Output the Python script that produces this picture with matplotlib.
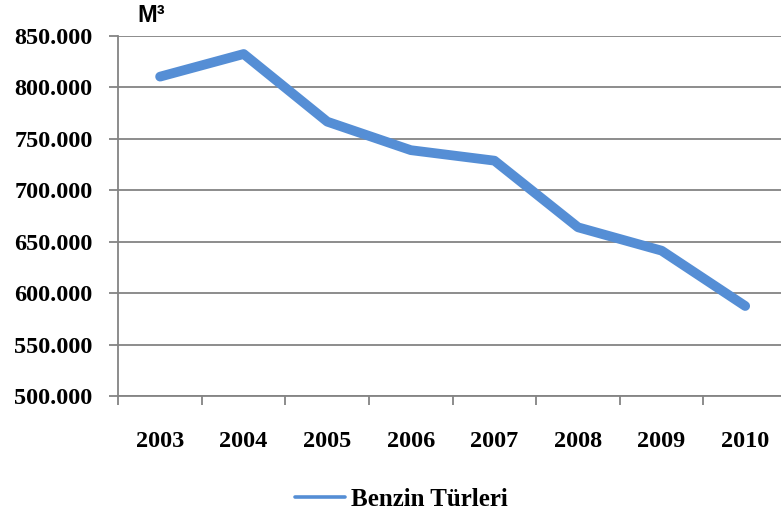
import matplotlib.pyplot as plt
from matplotlib.ticker import FuncFormatter, FixedLocator

# data (m3)
years = ['2003', '2004', '2005', '2006', '2007', '2008', '2009', '2010']
benzin = [810500, 832500, 766700, 739000, 728800, 664000, 641300, 587500]

grey = '#848484'
blue = '#558ed5'

fig = plt.figure(figsize=(7.81, 5.19), dpi=100)
ax = fig.add_axes([118.3 / 781, 123 / 519, (787 - 118.3) / 781, (396 - 36) / 519])

x = list(range(len(years)))
ax.plot(x, benzin, color=blue, linewidth=7, solid_capstyle='round',
        solid_joinstyle='round', label='Benzin Türleri', clip_on=False)

ax.set_xlim(-0.5, len(years) - 0.5)
ax.set_ylim(500000, 850000)
ax.set_yticks(range(500000, 850001, 50000))
ax.yaxis.set_major_formatter(FuncFormatter(lambda v, p: f'{int(v):,}'.replace(',', '.')))

# ticks between categories, labels in the middle
ax.xaxis.set_major_locator(FixedLocator([i - 0.5 for i in range(len(years) + 1)]))
ax.xaxis.set_minor_locator(FixedLocator(x))
ax.set_xticklabels([], minor=False)
ax.set_xticklabels(years, minor=True)

serif = {'family': 'Liberation Serif', 'weight': 'bold', 'size': 17.5}
for lab in ax.get_xticklabels(minor=True) + ax.get_yticklabels():
    lab.set_fontproperties(serif)

ax.tick_params(axis='x', which='major', length=6.5, width=1.3, color=grey, direction='out')
ax.tick_params(axis='x', which='minor', length=0, pad=25)
ax.tick_params(axis='y', length=6.5, width=1.3, color=grey, pad=12)

ax.grid(axis='y', color=grey, linewidth=1.3)
ax.set_axisbelow(True)
for s in ['top', 'right']:
    ax.spines[s].set_visible(False)
for s in ['left', 'bottom']:
    ax.spines[s].set_color(grey)
    ax.spines[s].set_linewidth(1.3)

fig.text(137 / 781, 1 - 16 / 519, 'M³', fontsize=17, fontweight='bold',
         family='Liberation Sans', va='center', ha='left')

leg = fig.legend(loc='center', bbox_to_anchor=(401 / 781, 1 - 499 / 519),
                 frameon=False, prop={'family': 'Liberation Serif', 'weight': 'bold', 'size': 18},
                 handlelength=2.0, handletextpad=0.25)
for h in leg.get_lines():
    h.set_linewidth(2.6)

fig.savefig('out.png', dpi=100)
